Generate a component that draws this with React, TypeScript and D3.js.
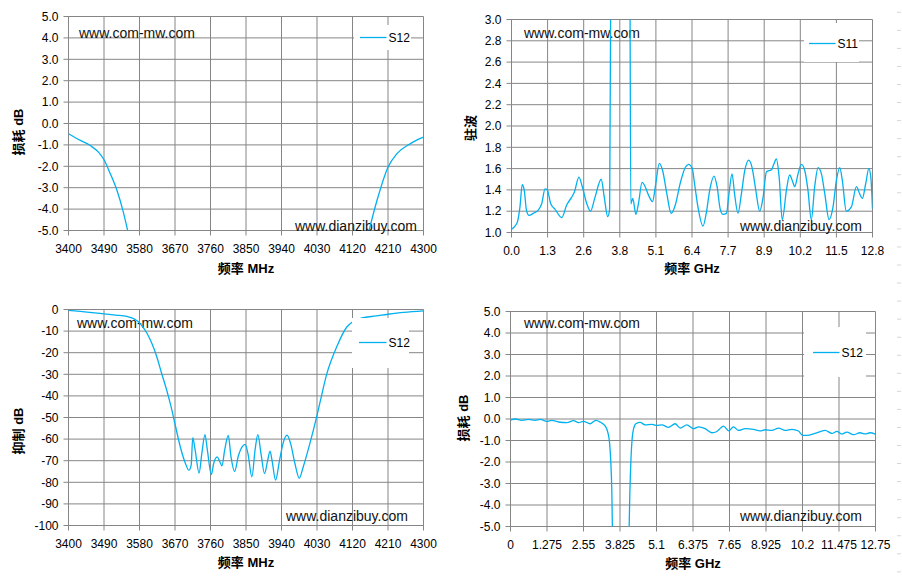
import React from 'react';
import * as d3 from 'd3';

// ---------- data ----------
// Chart 1: passband insertion loss (MHz, dB)
const lossMHzFreq = [3400, 3430, 3455, 3476, 3491, 3506, 3523, 3538, 3550, 3562, 3600, 3850, 4120, 4150, 4162, 4182, 4210, 4232, 4266, 4300];
const lossMHzVal = [-0.48, -0.79, -1.03, -1.34, -1.73, -2.35, -3.13, -4.07, -5.0, -6.0, -11, -60, -7, -5.9, -5.0, -3.6, -2.04, -1.42, -0.95, -0.64];

// Chart 2: VSWR (GHz)
const vswrFreq = [0, 0.12, 0.21, 0.30, 0.38, 0.45, 0.53, 0.62, 0.77, 0.95, 1.07, 1.19, 1.27, 1.39, 1.54, 1.78, 1.96, 2.13, 2.23, 2.39, 2.51, 2.67, 2.80, 2.96, 3.18, 3.29, 3.41, 3.48, 3.53, 3.85, 4.19, 4.23, 4.30, 4.41, 4.50, 4.63, 4.74, 4.86, 5.00, 5.10, 5.24, 5.36, 5.51, 5.66, 5.81, 5.98, 6.16, 6.28, 6.41, 6.49, 6.61, 6.79, 6.91, 7.03, 7.18, 7.29, 7.40, 7.50, 7.62, 7.71, 7.82, 7.91, 8.03, 8.15, 8.27, 8.41, 8.53, 8.66, 8.80, 8.92, 9.04, 9.22, 9.30, 9.39, 9.49, 9.60, 9.75, 9.86, 9.98, 10.04, 10.16, 10.28, 10.40, 10.51, 10.63, 10.75, 10.87, 10.99, 11.11, 11.26, 11.40, 11.52, 11.64, 11.73, 11.87, 12.05, 12.23, 12.35, 12.44, 12.56, 12.67, 12.74, 12.80];
const vswrVal = [1.03, 1.06, 1.10, 1.24, 1.45, 1.40, 1.21, 1.16, 1.18, 1.21, 1.27, 1.41, 1.40, 1.27, 1.22, 1.14, 1.26, 1.33, 1.38, 1.52, 1.43, 1.27, 1.20, 1.33, 1.50, 1.33, 1.15, 1.22, 4.0, 8.0, 4.0, 1.27, 1.32, 1.17, 1.27, 1.47, 1.43, 1.35, 1.29, 1.43, 1.65, 1.58, 1.36, 1.18, 1.26, 1.46, 1.61, 1.64, 1.60, 1.46, 1.24, 1.06, 1.19, 1.40, 1.53, 1.43, 1.22, 1.17, 1.18, 1.36, 1.55, 1.36, 1.18, 1.36, 1.58, 1.68, 1.61, 1.40, 1.20, 1.33, 1.57, 1.59, 1.64, 1.69, 1.52, 1.12, 1.40, 1.54, 1.47, 1.43, 1.55, 1.64, 1.58, 1.40, 1.12, 1.43, 1.61, 1.55, 1.36, 1.12, 1.24, 1.49, 1.61, 1.49, 1.20, 1.24, 1.43, 1.36, 1.32, 1.46, 1.60, 1.52, 1.22];

// Chart 3: rejection (MHz, dB)
const rejFreq = [3400, 3430, 3460, 3490, 3520, 3548, 3565, 3577, 3590, 3599, 3612, 3624, 3636, 3649, 3660, 3670, 3684, 3697, 3705, 3711, 3715, 3721, 3731, 3738, 3746, 3752, 3762, 3768, 3777, 3784, 3789, 3796, 3805, 3812, 3821, 3831, 3848, 3855, 3865, 3873, 3880, 3888, 3897, 3905, 3911, 3916, 3925, 3935, 3945, 3954, 3963, 3974, 3985, 3995, 4012, 4030, 4037, 4055, 4080, 4106, 4118, 4144, 4180, 4210, 4250, 4300];
const rejVal = [-0.4, -0.9, -1.4, -2.0, -2.6, -3.2, -4.2, -5.7, -8.5, -11, -16, -22, -29.5, -37.4, -45, -53, -64, -71.5, -74.4, -72, -59.3, -65, -75.7, -66.7, -57.9, -65, -76.4, -71.3, -68.2, -70.6, -72.4, -65, -58.3, -68.2, -75, -67.5, -62.4, -66.7, -77.5, -65, -57.9, -66.7, -76, -69.8, -65.6, -69.8, -79, -69.8, -61.3, -58.2, -62, -71.3, -78.1, -72.9, -62, -49, -43.5, -29.7, -17.3, -8, -6, -3.9, -3.0, -2.2, -1.3, -0.6];

// Chart 4: wideband insertion loss (GHz, dB)
const lossGHzFreq = [0, 0.16, 0.40, 0.63, 0.86, 1.04, 1.27, 1.44, 1.68, 1.97, 2.20, 2.38, 2.55, 2.78, 2.98, 3.13, 3.31, 3.40, 3.46, 3.50, 3.54, 3.57, 3.70, 4.00, 4.13, 4.17, 4.21, 4.25, 4.30, 4.38, 4.53, 4.70, 4.94, 5.11, 5.29, 5.52, 5.75, 5.93, 6.16, 6.39, 6.57, 6.80, 7.03, 7.21, 7.44, 7.62, 7.79, 7.96, 8.20, 8.49, 8.72, 8.90, 9.13, 9.36, 9.60, 9.83, 10.06, 10.20, 10.35, 10.64, 10.99, 11.23, 11.40, 11.57, 11.75, 11.98, 12.21, 12.39, 12.56, 12.74];
const lossGHzVal = [-0.05, 0.0, -0.06, -0.02, -0.06, -0.02, -0.11, -0.06, -0.14, -0.17, -0.08, -0.17, -0.11, -0.22, -0.06, -0.14, -0.33, -0.62, -1.1, -1.9, -3.4, -6, -30, -30, -6, -3.4, -1.8, -0.9, -0.45, -0.22, -0.16, -0.27, -0.25, -0.30, -0.27, -0.39, -0.22, -0.42, -0.27, -0.45, -0.37, -0.45, -0.64, -0.58, -0.33, -0.55, -0.37, -0.53, -0.45, -0.48, -0.55, -0.50, -0.53, -0.42, -0.53, -0.48, -0.56, -0.76, -0.76, -0.67, -0.53, -0.67, -0.58, -0.70, -0.61, -0.73, -0.64, -0.69, -0.64, -0.70];

// ---------- ticks ----------
const mhzTicks = [3400, 3490, 3580, 3670, 3760, 3850, 3940, 4030, 4120, 4210, 4300];
const mhzLabels = ['3400', '3490', '3580', '3670', '3760', '3850', '3940', '4030', '4120', '4210', '4300'];
const vswrXTicks = [0, 1.28, 2.56, 3.84, 5.12, 6.4, 7.68, 8.96, 10.24, 11.52, 12.8];
const vswrXLabels = ['0.0', '1.3', '2.6', '3.8', '5.1', '6.4', '7.7', '8.9', '10.2', '11.5', '12.8'];
const ghzTicks = [0, 1.275, 2.55, 3.825, 5.1, 6.375, 7.65, 8.925, 10.2, 11.475, 12.75];
const ghzLabels = ['0', '1.275', '2.55', '3.825', '5.1', '6.375', '7.65', '8.925', '10.2', '11.475', '12.75'];
const lossYTicks = [5, 4, 3, 2, 1, 0, -1, -2, -3, -4, -5];
const lossYLabels = ['5.0', '4.0', '3.0', '2.0', '1.0', '0.0', '-1.0', '-2.0', '-3.0', '-4.0', '-5.0'];
const vswrYTicks = [3.0, 2.8, 2.6, 2.4, 2.2, 2.0, 1.8, 1.6, 1.4, 1.2, 1.0];
const vswrYLabels = ['3.0', '2.8', '2.6', '2.4', '2.2', '2.0', '1.8', '1.6', '1.4', '1.2', '1.0'];
const rejYTicks = [0, -10, -20, -30, -40, -50, -60, -70, -80, -90, -100];
const rejYLabels = ['0', '-10', '-20', '-30', '-40', '-50', '-60', '-70', '-80', '-90', '-100'];

const LINE = '#00B0F0';
const GRID = '#868686';
const TXT = 'Liberation Sans, Arial, Noto Sans CJK SC, sans-serif';
const TITLE = 'Liberation Sans, Noto Sans CJK SC, sans-serif';

type PanelProps = {
  id: string;
  box: [number, number, number, number]; // x0, x1, y0, y1
  xDom: [number, number];
  yDom: [number, number];
  xTicks: number[]; xLabels: string[];
  yTicks: number[]; yLabels: string[];
  xs: number[]; ys: number[];
  xTitle: string; yTitle: string;
  yTitleX: number; yTitleY: number; xTitleY: number;
  series: string;
  legBox: [number, number, number, number];
  legLine: [number, number, number];
  wm1: [number, number]; wm2: [number, number];
};

function Panel(p: PanelProps) {
  const [x0, x1, y0, y1] = p.box;
  const x = d3.scaleLinear().domain(p.xDom).range([x0, x1]);
  const y = d3.scaleLinear().domain(p.yDom).range([y1, y0]);
  const pts = p.xs.map((f, i) => [f, p.ys[i]] as [number, number]);
  const line = d3.line<[number, number]>().x(d => x(d[0])).y(d => y(d[1])).curve(d3.curveMonotoneX);
  const [lx0, ly0, lx1, ly1] = p.legBox;
  return (
    <g>
      <defs>
        <clipPath id={p.id}>
          <rect x={x0} y={y0} width={x1 - x0} height={y1 - y0} />
        </clipPath>
      </defs>
      {p.yTicks.map((t, i) => (
        <g key={'y' + i}>
          <line x1={x0 - 5} x2={x1} y1={y(t)} y2={y(t)} stroke={GRID} strokeWidth={1} />
          <text x={x0 - 10} y={y(t)} dy="0.35em" textAnchor="end" fontSize={12} fontFamily={TXT} fill="#000">{p.yLabels[i]}</text>
        </g>
      ))}
      {p.xTicks.map((t, i) => (
        <g key={'x' + i}>
          <line x1={x(t)} x2={x(t)} y1={y0} y2={y1 + 5} stroke={GRID} strokeWidth={1} />
          <text x={x(t)} y={y1 + 18} dy="0.35em" textAnchor="middle" fontSize={12} fontFamily={TXT} fill="#000">{p.xLabels[i]}</text>
        </g>
      ))}
      <text x={p.wm1[0]} y={p.wm1[1]} dy="0.35em" fontSize={14} fontFamily={TXT} fill="#111">www.com-mw.com</text>
      <text x={p.wm2[0]} y={p.wm2[1]} dy="0.35em" fontSize={14} fontFamily={TXT} fill="#111">www.dianzibuy.com</text>
      <path d={line(pts) || ''} fill="none" stroke={LINE} strokeWidth={1.3} clipPath={`url(#${p.id})`} />
      <rect x={lx0} y={ly0} width={lx1 - lx0} height={ly1 - ly0} fill="#fff" />
      <line x1={p.legLine[0]} x2={p.legLine[1]} y1={p.legLine[2]} y2={p.legLine[2]} stroke={LINE} strokeWidth={1.3} />
      <text x={p.legLine[1] + 2} y={p.legLine[2]} dy="0.35em" fontSize={12} fontFamily={TXT} fill="#000">{p.series}</text>
      <text x={(x0 + x1) / 2} y={p.xTitleY} dy="0.35em" textAnchor="middle" fontSize={13} fontWeight="bold" fontFamily={TITLE} fill="#000">{p.xTitle}</text>
      <text transform={`translate(${p.yTitleX},${p.yTitleY}) rotate(-90)`} dy="0.35em" textAnchor="middle" fontSize={13} fontWeight="bold" fontFamily={TITLE} fill="#000">{p.yTitle}</text>
    </g>
  );
}

export default function App() {
  const edgeMarks = d3.range(12.3, 580, 18.05);
  return (
    <svg width={902} height={583} style={{ position: 'absolute', left: 0, top: 0, background: '#fff' }}>
      <rect x={0} y={0} width={902} height={583} fill="#fff" />
      {edgeMarks.map((m, i) => (
        <line key={i} x1={897} x2={901} y1={m} y2={m} stroke="#d6d6d6" strokeWidth={1} />
      ))}
      <Panel id="c1" box={[68.5, 423.5, 16.5, 230.5]} xDom={[3400, 4300]} yDom={[-5, 5]}
        xTicks={mhzTicks} xLabels={mhzLabels} yTicks={lossYTicks} yLabels={lossYLabels}
        xs={lossMHzFreq} ys={lossMHzVal} xTitle="频率 MHz" yTitle="损耗 dB"
        yTitleX={18} yTitleY={132} xTitleY={268} series="S12"
        legBox={[354, 25, 411, 50]} legLine={[360, 386.5, 37.5]} wm1={[79, 33]} wm2={[295, 226]} />
      <Panel id="c2" box={[511.5, 872.5, 19.5, 232.5]} xDom={[0, 12.8]} yDom={[1, 3]}
        xTicks={vswrXTicks} xLabels={vswrXLabels} yTicks={vswrYTicks} yLabels={vswrYLabels}
        xs={vswrFreq} ys={vswrVal} xTitle="频率 GHz" yTitle="驻波"
        yTitleX={470} yTitleY={128} xTitleY={268} series="S11"
        legBox={[804, 23, 859, 62]} legLine={[809, 835.5, 43.5]} wm1={[524, 33]} wm2={[740, 226]} />
      <Panel id="c3" box={[68.5, 423.5, 309.5, 525.5]} xDom={[3400, 4300]} yDom={[-100, 0]}
        xTicks={mhzTicks} xLabels={mhzLabels} yTicks={rejYTicks} yLabels={rejYLabels}
        xs={rejFreq} ys={rejVal} xTitle="频率 MHz" yTitle="抑制 dB"
        yTitleX={18} yTitleY={431} xTitleY={562} series="S12"
        legBox={[352, 318, 409, 368]} legLine={[359, 386.5, 342.5]} wm1={[77, 323]} wm2={[286, 516]} />
      <Panel id="c4" box={[510.5, 875.5, 311.5, 526.5]} xDom={[0, 12.75]} yDom={[-5, 5]}
        xTicks={ghzTicks} xLabels={ghzLabels} yTicks={lossYTicks} yLabels={lossYLabels}
        xs={lossGHzFreq} ys={lossGHzVal} xTitle="频率 GHz" yTitle="损耗 dB"
        yTitleX={463} yTitleY={418} xTitleY={563} series="S12"
        legBox={[804, 327, 866, 377]} legLine={[813, 839.5, 352.5]} wm1={[524, 323]} wm2={[740, 516]} />
    </svg>
  );
}
